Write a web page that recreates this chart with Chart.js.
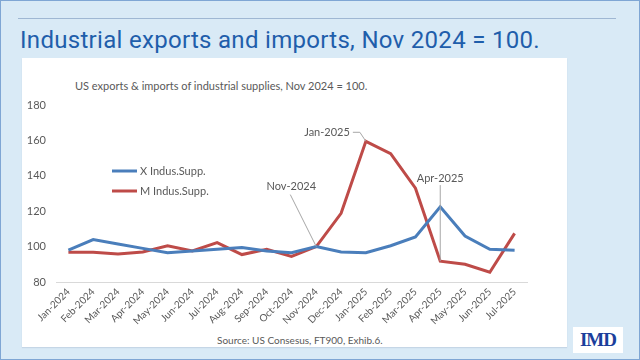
<!DOCTYPE html>
<html>
<head>
<meta charset="utf-8">
<script src="https://cdn.jsdelivr.net/npm/chart.js@4"></script>
<style>
  html, body { margin: 0; padding: 0; }
  body { width: 640px; height: 360px; overflow: hidden; background: #d9eaf6; position: relative; font-family: Lato, sans-serif; }
  .frame { position: absolute; left: 0; top: 0; width: 638px; height: 358px; border: 1px solid #7fa6d4; }
  .rule { position: absolute; left: 18px; top: 18px; width: 598px; height: 1px; background: #9fb7d3; }
  .title { position: absolute; left: 20px; top: 26px; font-family: Roboto, sans-serif; font-size: 24px; letter-spacing: 0.3px; color: #1f5eab; white-space: nowrap; }
  .panel { position: absolute; left: 22px; top: 58px; width: 545px; height: 289px; background: #fff; box-shadow: 0 1px 1px #c5d6e6; }
  .sub { position: absolute; left: 75px; top: 79px; font-size: 11px; color: #595959; white-space: nowrap; }
  .src { position: absolute; left: 217px; top: 334px; font-size: 10px; color: #595959; white-space: nowrap; }
  .logo { position: absolute; left: 573px; top: 327px; width: 50px; height: 26px; background: #fff; text-align: center;
          font-family: "Liberation Serif", serif; font-weight: bold; font-size: 19px; line-height: 26px; color: #1b3f9c; letter-spacing: -1px; }
  canvas { position: absolute; left: 22px; top: 58px; }
</style>
</head>
<body>
<div class="frame"></div>
<div class="rule"></div>
<div class="title">Industrial exports and imports, Nov 2024 = 100.</div>
<div class="panel"></div>
<div class="sub">US exports &amp; imports of industrial supplies, Nov 2024 = 100.</div>
<div class="src">Source: US Consesus, FT900, Exhib.6.</div>
<div class="logo">IMD</div>
<canvas id="lineChart" width="545" height="289"></canvas>
<script>
// Months on the x axis
var months = ['Jan-2024', 'Feb-2024', 'Mar-2024', 'Apr-2024', 'May-2024', 'Jun-2024', 'Jul-2024',
  'Aug-2024', 'Sep-2024', 'Oct-2024', 'Nov-2024', 'Dec-2024', 'Jan-2025', 'Feb-2025', 'Mar-2025',
  'Apr-2025', 'May-2025', 'Jun-2025', 'Jul-2025'];

// Index values, Nov 2024 = 100
var exportsIdx = [98, 104, 101.5, 99, 96.5, 97.5, 98.5, 99.5, 97.5, 96.5, 100, 97, 96.5, 100.5, 105.5, 122.5, 106, 98.5, 98];
var importsIdx = [96.8, 96.8, 95.8, 97, 100.5, 97.5, 102.3, 95.5, 98.5, 94.5, 100, 118.8, 159.5, 152.5, 133, 91.8, 90, 85.5, 107.5];

var yTicks = [80, 100, 120, 140, 160, 180];

// Callout labels: month, series index, text
var callouts = [
  { month: 'Nov-2024', series: 1, text: 'Nov-2024' },
  { month: 'Jan-2025', series: 1, text: 'Jan-2025' },
  { month: 'Apr-2025', series: 1, text: 'Apr-2025' }
];

var blue = '#4a7ebb';
var red = '#be4b48';
var grey = '#595959';

// Legend drawn inside the plot, at the left
var legendInside = {
  id: 'legendInside',
  afterDraw: function (chart) {
    var c = chart.ctx;
    c.save();
    c.font = '11px Lato';
    c.textBaseline = 'middle';
    chart.data.datasets.forEach(function (ds, i) {
      var y = 113 + i * 20;
      c.strokeStyle = ds.borderColor;
      c.lineWidth = 3;
      c.beginPath();
      c.moveTo(90, y);
      c.lineTo(115, y);
      c.stroke();
      c.fillStyle = grey;
      c.fillText(ds.label, 118, y);
    });
    c.restore();
  }
};

// Leader-line callouts
var calloutPlugin = {
  id: 'callouts',
  afterDatasetsDraw: function (chart) {
    var c = chart.ctx;
    var xs = chart.scales.x, ys = chart.scales.y;
    c.save();
    c.font = '11px Lato';
    c.fillStyle = grey;
    c.strokeStyle = '#a6a6a6';
    c.lineWidth = 1;
    c.textBaseline = 'middle';
    callouts.forEach(function (co) {
      var idx = months.indexOf(co.month);
      var v = chart.data.datasets[co.series].data[idx];
      var px = xs.getPixelForValue(idx), py = ys.getPixelForValue(v);
      c.beginPath();
      if (co.month === 'Nov-2024') {
        c.textAlign = 'center';
        c.fillText(co.text, px - 25, py - 60);
        c.moveTo(px - 26, py - 52);
        c.lineTo(px, py);
      } else if (co.month === 'Jan-2025') {
        c.textAlign = 'right';
        c.fillText(co.text, px - 16, py - 9);
        c.moveTo(px - 13, py - 9);
        c.lineTo(px - 6, py - 9);
        c.lineTo(px, py);
      } else {
        c.textAlign = 'center';
        c.fillText(co.text, px, py - 83);
        c.moveTo(px, py - 76);
        c.lineTo(px, py);
      }
      c.stroke();
    });
    c.restore();
  }
};

var ctx = document.getElementById('lineChart').getContext('2d');

var myLineChart = new Chart(ctx, {
  type: 'line',
  data: {
    labels: months,
    datasets: [
      { label: 'X Indus.Supp.', data: exportsIdx, borderColor: blue, backgroundColor: blue, borderWidth: 3, pointRadius: 0, tension: 0 },
      { label: 'M Indus.Supp.', data: importsIdx, borderColor: red, backgroundColor: red, borderWidth: 3, pointRadius: 0, tension: 0 }
    ]
  },
  options: {
    responsive: false,
    animation: false,
    layout: { padding: { top: 47, right: 40, left: 0, bottom: 0 } },
    plugins: {
      legend: { display: false },
      tooltip: { enabled: false }
    },
    scales: {
      x: {
        offset: true,
        grid: { display: false, drawTicks: false },
        border: { color: '#d9d9d9', width: 1 },
        ticks: { color: grey, font: { family: 'Lato', size: 10 }, minRotation: 45, maxRotation: 45, autoSkip: false, padding: 4 },
        afterFit: function (s) { s.height = 65; s.paddingLeft = 0; s.paddingRight = 0; }
      },
      y: {
        min: 80,
        max: 180,
        afterBuildTicks: function (s) { s.ticks = yTicks.map(function (v) { return { value: v }; }); },
        grid: { display: false, drawTicks: false },
        border: { display: false },
        ticks: { color: grey, font: { family: 'Lato', size: 11 }, padding: 10 },
        afterFit: function (s) { s.width = 34; }
      }
    }
  },
  plugins: [legendInside, calloutPlugin]
});
</script>
</body>
</html>
